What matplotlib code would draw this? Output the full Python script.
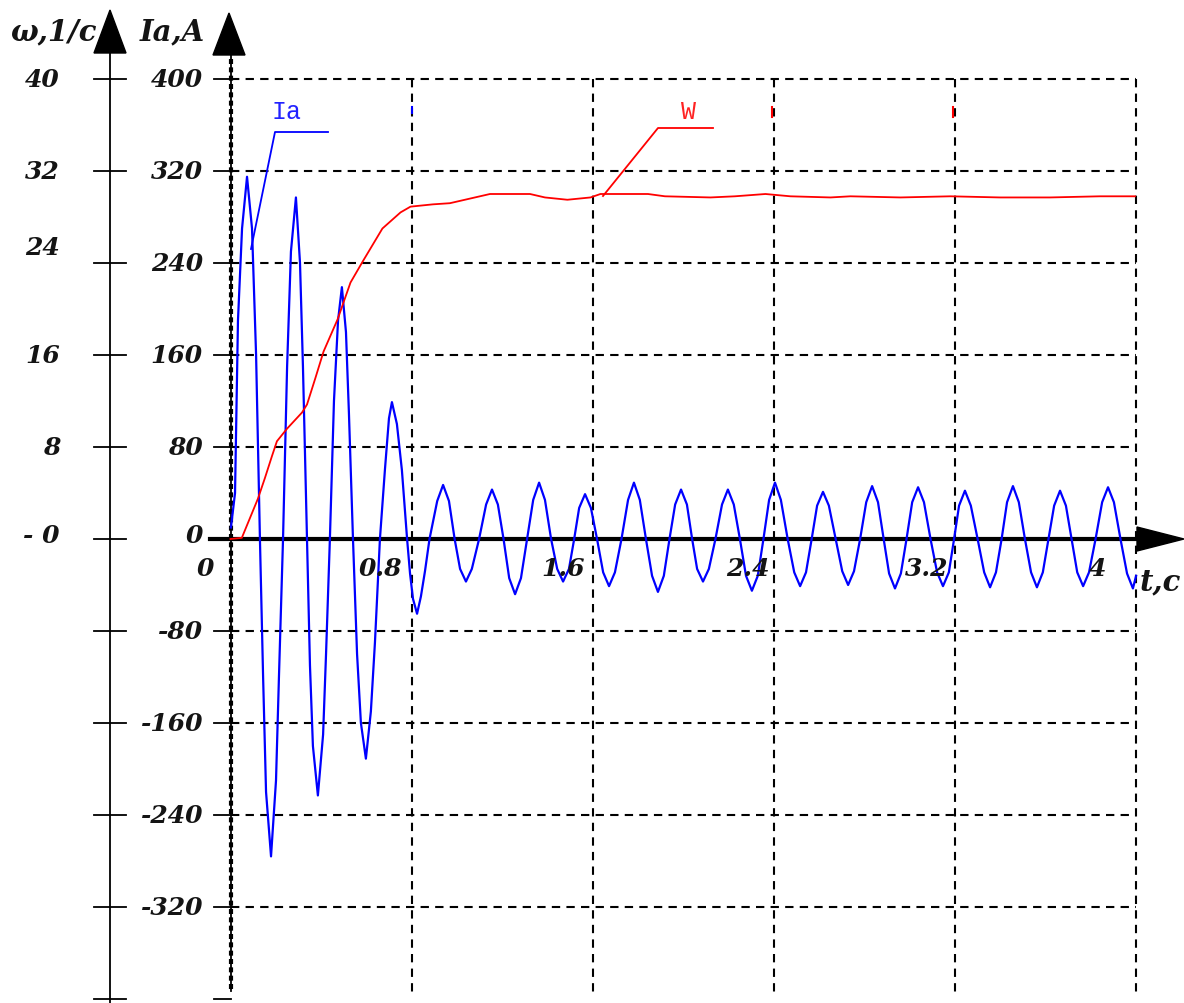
import matplotlib
matplotlib.use('Agg')
import matplotlib.pyplot as plt
from matplotlib.patches import Polygon

# ---------------- data ----------------
# armature current Ia (A) vs time t (s)
t_ia = [0.002, 0.020, 0.033, 0.051, 0.073, 0.095, 0.113, 0.130, 0.144, 0.157,
        0.179, 0.201, 0.214, 0.232, 0.250, 0.267, 0.289, 0.307, 0.320, 0.338,
        0.351, 0.364, 0.386, 0.409, 0.422, 0.439, 0.457, 0.475, 0.492, 0.510,
        0.523, 0.541, 0.559, 0.576, 0.598, 0.620, 0.638, 0.660, 0.682, 0.700,
        0.713, 0.735, 0.757, 0.780, 0.793, 0.806, 0.824, 0.841, 0.859, 0.879,
        0.913, 0.939, 0.965, 0.990,
        1.014, 1.040, 1.066, 1.098, 1.129, 1.155, 1.181, 1.206,
        1.231, 1.257, 1.283, 1.310, 1.337, 1.363, 1.389, 1.416,
        1.443, 1.469, 1.495, 1.518, 1.540, 1.566, 1.592, 1.619,
        1.646, 1.672, 1.698, 1.727, 1.756, 1.782, 1.808, 1.835,
        1.862, 1.888, 1.914, 1.939, 1.964, 1.990, 2.016, 2.039,
        2.061, 2.087, 2.113, 2.142, 2.171, 2.197, 2.223, 2.250,
        2.277, 2.303, 2.329, 2.354, 2.379, 2.405, 2.431, 2.461,
        2.490, 2.516, 2.542, 2.567, 2.591, 2.617, 2.643, 2.673,
        2.702, 2.728, 2.754, 2.781, 2.808, 2.834, 2.860, 2.885,
        2.909, 2.935, 2.961, 2.986, 3.011, 3.037, 3.063, 3.092,
        3.121, 3.147, 3.173, 3.196, 3.218, 3.244, 3.270, 3.300,
        3.329, 3.355, 3.381, 3.406, 3.430, 3.456, 3.482, 3.509,
        3.536, 3.562, 3.588, 3.613, 3.638, 3.664, 3.690, 3.715,
        3.740, 3.766, 3.792, 3.821, 3.850, 3.876, 3.902, 3.931,
        3.960, 3.986, 4.000]
ia = [10, 40, 190, 270, 315, 270, 160, 0, -120, -220,
      -276, -210, -120, 0, 150, 250, 297, 240, 150, 0,
      -110, -180, -223, -170, -100, 0, 120, 190, 219, 180,
      110, 0, -100, -160, -191, -150, -90, 0, 60, 105,
      119, 100, 60, 0, -30, -52, -65, -50, -28, 0,
      33, 47, 33, 0,
      -26, -37, -26, 0, 30, 43, 30, 0,
      -34, -48, -34, 0, 34, 49, 34, 0,
      -26, -37, -26, 0, 27, 39, 27, 0,
      -29, -41, -29, 0, 34, 49, 34, 0,
      -32, -46, -32, 0, 30, 43, 30, 0,
      -26, -37, -26, 0, 30, 43, 30, 0,
      -32, -45, -32, 0, 34, 49, 34, 0,
      -29, -41, -29, 0, 29, 41, 29, 0,
      -28, -40, -28, 0, 32, 46, 32, 0,
      -30, -43, -30, 0, 32, 45, 32, 0,
      -29, -41, -29, 0, 29, 42, 29, 0,
      -29, -42, -29, 0, 32, 46, 32, 0,
      -29, -42, -29, 0, 29, 42, 29, 0,
      -29, -41, -29, 0, 32, 45, 32, 0,
      -30, -43, -32]

# angular speed omega (1/c) vs time t (s)
t_w = [0.000, 0.050, 0.121, 0.152, 0.183, 0.205, 0.250, 0.316, 0.338, 0.375,
       0.411, 0.473, 0.530, 0.583, 0.671, 0.751, 0.795, 0.894, 0.969, 1.146,
       1.323, 1.389, 1.488, 1.590, 1.634, 1.844, 1.919, 2.120, 2.228, 2.363,
       2.473, 2.650, 2.738, 2.959, 3.180, 3.399, 3.620, 3.840, 3.995]
w = [0.0, 0.1, 3.5, 5.3, 7.2, 8.5, 9.6, 11.0, 11.7, 14.0,
     16.3, 19.1, 22.3, 24.1, 27.0, 28.4, 28.9, 29.1, 29.2, 30.0,
     30.0, 29.7, 29.5, 29.7, 30.0, 30.0, 29.8, 29.7, 29.8, 30.0,
     29.8, 29.7, 29.8, 29.7, 29.8, 29.7, 29.7, 29.8, 29.8]

x_ticks = [0, 0.8, 1.6, 2.4, 3.2, 4.0]
x_tick_labels = ['0', '0.8', '1.6', '2.4', '3.2', '4']
ia_ticks = [400, 320, 240, 160, 80, 0, -80, -160, -240, -320]
ia_tick_labels = ['400', '320', '240', '160', '80', '0', '-80', '-160', '-240', '-320']
ia_grid = [400, 320, 240, 160, 80, -80, -160, -240, -320]
w_ticks = [40, 32, 24, 16, 8, 0]
w_tick_labels = ['40', '32', '24', '16', '8', '- 0']

# ---------------- layout ----------------
W, H = 1184, 1004
X0, SX = 230.5, 226.4     # pixel of t=0, pixels per second
Y0, SY = 540.0, 1.15      # pixel of Ia=0, pixels per ampere


def dx(px):
    return (px - X0) / SX


def dy(py):
    return (Y0 - py) / SY


fig = plt.figure(figsize=(W / 100, H / 100), dpi=100)
ax = fig.add_axes([0, 0, 1, 1])
ax.set_xlim(dx(0), dx(W))
ax.set_ylim(dy(H), dy(0))
ax.axis('off')
ax2 = ax.twinx()
ax2.set_ylim(dy(H) / 10, dy(0) / 10)
ax2.axis('off')

K = '#141414'
tf = dict(family='DejaVu Serif', weight='bold', style='italic', fontsize=18, color=K)

# grid
grid_kw = dict(color='black', lw=1.5, ls=(0, (4, 3)), zorder=1)
for v in ia_grid:
    ax.plot([0, 4.0], [v, v], **grid_kw)
for tv in x_ticks[1:]:
    ax.plot([tv, tv], [400, dy(996)], **grid_kw)

# Ia axis (at t = 0)
ax.plot([0, 0], [dy(55), dy(992)], color='black', lw=1.3, zorder=3)
ax.plot([0.002, 0.002], [dy(60), dy(992)], color='black', lw=3.0, ls=(0, (1.2, 0.8)), zorder=3)
ax.add_patch(Polygon([[dx(229), dy(14)], [dx(213), dy(56)], [dx(245), dy(56)]],
                     closed=True, color='black', zorder=4))
for v in ia_ticks + [-400]:
    ax.plot([dx(214), dx(231)], [v, v], color='black', lw=1.3, zorder=3)

# omega axis (left)
ax.plot([dx(110), dx(110)], [dy(52), dy(H)], color='black', lw=1.3, zorder=3)
ax.add_patch(Polygon([[dx(110), dy(11)], [dx(94), dy(54)], [dx(126), dy(54)]],
                     closed=True, color='black', zorder=4))
for v in ia_ticks + [-400]:
    ax.plot([dx(94), dx(126)], [v, v], color='black', lw=1.3, zorder=3)

# time axis
ax.plot([dx(210), dx(1140)], [0, 0], color='black', lw=3.0, zorder=5)
ax.add_patch(Polygon([[dx(1184), 0], [dx(1137), dy(528)], [dx(1137), dy(552)]],
                     closed=True, color='black', zorder=5))

# curves
ax.plot(t_ia, ia, color='#0000ff', lw=1.6, zorder=6)
ax2.plot(t_w, w, color='#ff0000', lw=1.3, zorder=7)

# leader lines and curve labels
ax.plot([dx(251), dx(275), dx(328)], [dy(250), dy(133), dy(133)], color='#0000ff', lw=1.3, zorder=6)
ax.text(dx(287), dy(112), 'Ia', family='Liberation Mono', fontsize=18, color='#2222ff',
        ha='center', va='center', zorder=8)
ax.plot([dx(603), dx(658), dx(713)], [dy(197), dy(129), dy(129)], color='#ff0000', lw=1.3, zorder=7)
ax.text(dx(688), dy(112), 'W', family='Liberation Mono', fontsize=18, color='#ff2222',
        ha='center', va='center', zorder=8)

# small marks near the top of grid lines
ax.plot([dx(412), dx(412)], [dy(108), dy(114)], color='#0000ff', lw=1.5, zorder=6)
ax.plot([dx(772), dx(772)], [dy(108), dy(118)], color='#ff0000', lw=1.5, zorder=6)
ax.plot([dx(953), dx(953)], [dy(108), dy(118)], color='#ff0000', lw=1.5, zorder=6)

# tick labels: Ia
for v, lab in zip(ia_ticks, ia_tick_labels):
    yy = v if v != 0 else dy(536)
    ax.text(dx(203), yy, lab, ha='right', va='center', zorder=8, **tf)
# tick labels: omega
for v, lab in zip(w_ticks, w_tick_labels):
    yy = v if v != 24 else dy(248) / 10
    if v == 0:
        yy = dy(536) / 10
    ax2.text(dx(60), yy, lab, ha='right', va='center', zorder=8, **tf)
# tick labels: t
x_lab_px = [205, 380, 563, 748, 927, 1098]
for tv, lab, px in zip(x_ticks, x_tick_labels, x_lab_px):
    ax.text(dx(px), dy(569), lab, ha='center', va='center', zorder=8, **tf)

# axis titles
big = dict(tf)
big['fontsize'] = 21
ax.text(dx(53), dy(32), 'ω,1/c', ha='center', va='center', **big)
ax.text(dx(172), dy(32), 'Ia,A', ha='center', va='center', **big)
ax.text(dx(1160), dy(582), 't,c', ha='center', va='center', **big)

fig.savefig('out.png', dpi=100)
